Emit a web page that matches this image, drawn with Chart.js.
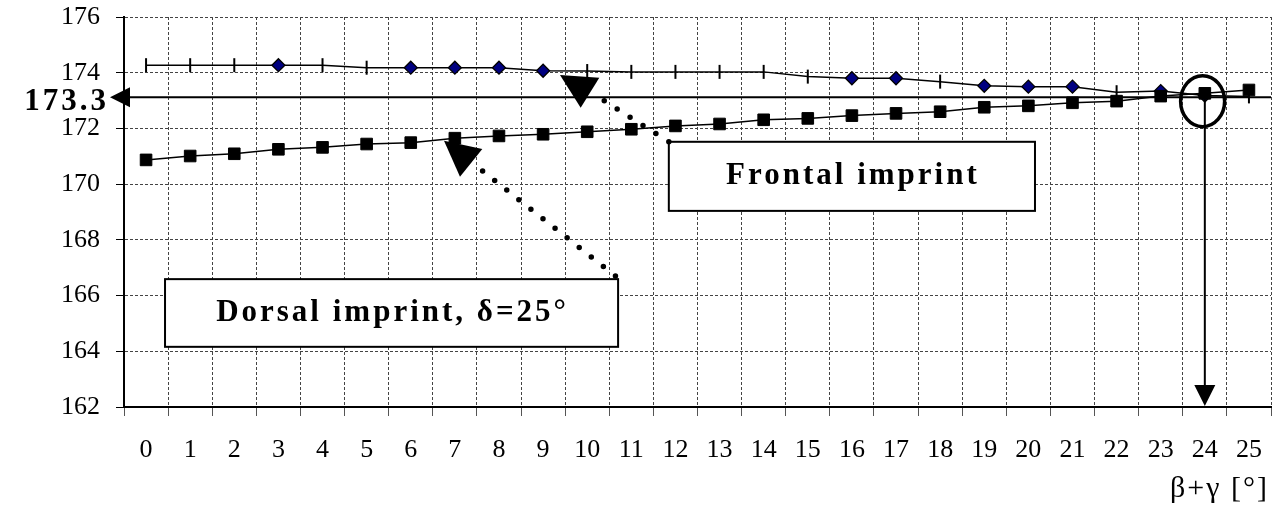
<!DOCTYPE html>
<html>
<head>
<meta charset="utf-8">
<script src="https://cdn.jsdelivr.net/npm/chart.js@4/dist/chart.umd.min.js"></script>
<style>
  html, body { margin: 0; padding: 0; background: #fff; }
  #wrap { width: 1280px; height: 527px; position: relative; }
</style>
</head>
<body>
<div id="wrap"><canvas id="c" width="1280" height="527"></canvas></div>
<script>
// ---------------- data ----------------
const categories = ['0','1','2','3','4','5','6','7','8','9','10','11','12','13','14','15','16','17','18','19','20','21','22','23','24','25'];
const frontal = [174.27,174.27,174.27,174.27,174.27,174.18,174.18,174.18,174.18,174.07,174.06,174.03,174.03,174.03,174.03,173.86,173.80,173.80,173.68,173.53,173.50,173.50,173.30,173.34,173.18,173.15];
const dorsal  = [170.87,171.01,171.09,171.25,171.32,171.44,171.49,171.65,171.73,171.79,171.88,171.97,172.09,172.16,172.31,172.36,172.46,172.54,172.60,172.76,172.81,172.92,172.98,173.16,173.26,173.38];
const frontalDiamondIdx = [3,6,7,8,9,16,17,19,20,21,23,24];
const yMin = 162, yMax = 176, yStep = 2;
const readLevel = 173.12;       // where the reading line is drawn
const readLabel = '173.3';
const readIndex = 24;
const xTitle = 'β+γ [°]';
const frontalLabel = 'Frontal imprint';
const dorsalLabel = 'Dorsal imprint, δ=25°';

// annotation geometry in data units (x = category index, y = value)
const frontalBox = { x0: 11.85, x1: 20.15, yTop: 171.52, yBot: 169.04 };
const dorsalBox  = { x0: 0.43,  x1: 10.70, yTop: 166.59, yBot: 164.16 };
const frontalLeader = { from: [11.85, 171.52], to: [10.10, 173.28],
  head: [[9.383, 173.918], [10.274, 173.821], [9.852, 172.744]] };
const dorsalLeader = { from: [10.64, 166.70], to: [7.36, 170.81],
  head: [[6.754, 171.56], [7.622, 171.262], [7.116, 170.267]] };
const circleAt = [23.95, 172.98];

const SERIF = "'Liberation Serif', 'Times New Roman', serif";
const diamondSet = new Set(frontalDiamondIdx);

const annot = {
  id: 'annot',
  afterDatasetsDraw(chart) {
    const { ctx, chartArea: ca, scales } = chart;
    const X = v => scales.x.getPixelForValue(v);
    const Y = v => scales.y.getPixelForValue(v);
    ctx.save();
    ctx.strokeStyle = '#000';
    ctx.fillStyle = '#000';

    // horizontal reading line with arrow to the y axis
    const ly = Y(readLevel);
    const tipX = ca.left - 14;
    ctx.lineWidth = 2;
    ctx.beginPath(); ctx.moveTo(tipX + 12, ly); ctx.lineTo(ca.right, ly); ctx.stroke();
    ctx.beginPath(); ctx.moveTo(tipX, ly); ctx.lineTo(tipX + 20, ly - 10); ctx.lineTo(tipX + 20, ly + 10); ctx.closePath(); ctx.fill();

    // vertical reading line with arrow to x axis
    const vx = X(readIndex);
    ctx.beginPath(); ctx.moveTo(vx, ly); ctx.lineTo(vx, ca.bottom - 15); ctx.stroke();
    ctx.beginPath(); ctx.moveTo(vx - 10.5, ca.bottom - 22); ctx.lineTo(vx + 10.5, ca.bottom - 22); ctx.lineTo(vx, ca.bottom - 1); ctx.closePath(); ctx.fill();

    // ellipse
    ctx.lineWidth = 3.5;
    ctx.beginPath(); ctx.ellipse(X(circleAt[0]), Y(circleAt[1]), 22, 25.5, 0, 0, Math.PI * 2); ctx.stroke();

    // label 173.3
    ctx.font = 'bold 31px ' + SERIF;
    ctx.letterSpacing = '3px';
    ctx.textAlign = 'right';
    ctx.textBaseline = 'alphabetic';
    ctx.fillText(readLabel, tipX - 1, ly + 13);

    // leaders + boxes
    const drawLeader = (L, gap) => {
      ctx.save();
      ctx.setLineDash([0, gap]);
      ctx.lineCap = 'round';
      ctx.lineWidth = 5.5;
      ctx.beginPath(); ctx.moveTo(X(L.from[0]), Y(L.from[1])); ctx.lineTo(X(L.to[0]), Y(L.to[1])); ctx.stroke();
      ctx.restore();
      ctx.beginPath();
      L.head.forEach((p, i) => { const px = X(p[0]), py = Y(p[1]); if (i === 0) ctx.moveTo(px, py); else ctx.lineTo(px, py); });
      ctx.closePath(); ctx.fill();
    };
    const drawBox = (B, text) => {
      const x0 = X(B.x0), x1 = X(B.x1), y0 = Y(B.yTop), y1 = Y(B.yBot);
      ctx.fillStyle = '#fff';
      ctx.fillRect(x0, y0, x1 - x0, y1 - y0);
      ctx.lineWidth = 2; ctx.setLineDash([]);
      ctx.strokeRect(x0, y0, x1 - x0, y1 - y0);
      ctx.fillStyle = '#000';
      ctx.font = 'bold 31px ' + SERIF;
      ctx.letterSpacing = '3px';
      ctx.textAlign = 'center';
      ctx.textBaseline = 'alphabetic';
      ctx.fillText(text, (x0 + x1) / 2 + 1, y0 + 42);
    };
    drawBox(frontalBox, frontalLabel);
    drawBox(dorsalBox, dorsalLabel);
    drawLeader(frontalLeader, 15.3);
    drawLeader(dorsalLeader, 15.4);

    // x axis title
    ctx.font = '30px ' + SERIF;
    ctx.letterSpacing = '2px';
    ctx.textAlign = 'right';
    ctx.textBaseline = 'alphabetic';
    ctx.fillText(xTitle, ca.right - 2, 497);
    ctx.restore();
  }
};

Chart.defaults.font.family = SERIF;
Chart.defaults.color = '#000';

new Chart(document.getElementById('c'), {
  type: 'line',
  data: {
    labels: categories,
    datasets: [
      {
        label: 'Dorsal imprint',
        data: dorsal,
        order: 1,
        borderColor: '#000',
        borderWidth: 1.5,
        pointStyle: 'rect',
        pointRadius: 8.2,
        pointBackgroundColor: '#000',
        pointBorderColor: '#000',
        pointBorderWidth: 1,
        tension: 0
      },
      {
        label: 'Frontal imprint',
        data: frontal,
        order: 2,
        borderColor: '#000',
        borderWidth: 1.5,
        pointStyle: c => diamondSet.has(c.dataIndex) ? 'rectRot' : 'line',
        pointRotation: c => diamondSet.has(c.dataIndex) ? 0 : 90,
        pointRadius: c => diamondSet.has(c.dataIndex) ? 6.5 : 7,
        pointBackgroundColor: '#000080',
        pointBorderColor: '#000',
        pointBorderWidth: c => diamondSet.has(c.dataIndex) ? 1.3 : 2,
        tension: 0
      }
    ]
  },
  options: {
    responsive: false,
    animation: false,
    devicePixelRatio: 1,
    layout: { autoPadding: false, padding: { top: 17, right: 9, left: 0, bottom: 0 } },
    plugins: { legend: { display: false }, tooltip: { enabled: false } },
    elements: { point: { hoverRadius: 0 } },
    scales: {
      x: {
        type: 'category',
        offset: true,
        grid: {
          offset: true,
          color: '#444',
          lineWidth: 1,
          tickLength: 9,
          tickColor: '#555',
          tickBorderDash: [],
          drawTicks: true
        },
        border: { display: true, color: '#000', width: 2, dash: [3, 2] },
        ticks: { font: { size: 26 }, padding: 19, maxRotation: 0, autoSkip: false },
        afterFit: s => { s.height = 120; s.paddingLeft = 0; s.paddingRight = 0; }
      },
      y: {
        min: yMin, max: yMax,
        grid: {
          color: '#444',
          lineWidth: 1,
          tickLength: 8,
          tickColor: '#000',
          tickBorderDash: []
        },
        border: { display: true, color: '#000', width: 2, dash: [3, 2] },
        ticks: { stepSize: yStep, font: { size: 26 }, padding: 16 },
        afterFit: s => { s.width = 124; s.paddingTop = 0; s.paddingBottom = 0; }
      }
    }
  },
  plugins: [annot]
});
</script>
</body>
</html>
